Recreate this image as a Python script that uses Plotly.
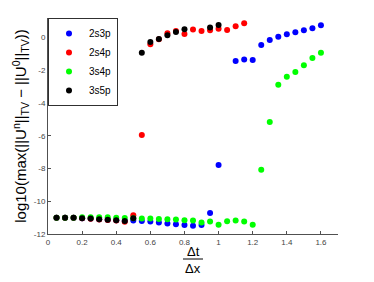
import plotly.graph_objects as go

x_ratio = [0.05, 0.10, 0.15, 0.20, 0.25, 0.30, 0.35, 0.40, 0.45, 0.50,
           0.55, 0.60, 0.65, 0.70, 0.75, 0.80, 0.85, 0.90, 0.95, 1.00,
           1.05, 1.10, 1.15, 1.20, 1.25, 1.30, 1.35, 1.40, 1.45, 1.50,
           1.55, 1.60]

s_2s3p = [-11.0, -11.0, -11.0, -11.03, -11.06, -11.1, -11.13, -11.16, -11.2, -11.18,
          -11.2, -11.24, -11.3, -11.36, -11.4, -11.45, -11.49, -11.45, -10.72, -7.78,
          None, -1.43, -1.33, -1.37, -0.45, -0.14, 0.06, 0.21, 0.33, 0.45,
          0.57, 0.76]

s_2s4p = [-11.0, -11.0, -11.0, -11.04, -11.07, -11.12, -11.15, -11.18, -11.25, -10.85,
          -5.95, -0.41, -0.1, 0.27, 0.41, 0.22, 0.49, 0.41, 0.45, 0.54,
          0.47, 0.70, 0.88]

s_3s4p = [-11.0, -11.0, -11.0, -10.98, -10.98, -10.98, -10.98, -11.0, -11.02, -11.04,
          -11.06, -11.06, -11.08, -11.1, -11.12, -11.16, -11.18, -11.3, -11.23, -11.43,
          -11.22, -11.17, -11.23, -11.43, -8.08, -5.16, -2.88, -2.39, -2.1, -1.69,
          -1.24, -0.92]

s_3s5p = [-11.0, -11.0, -11.0, -11.03, -11.06, -11.1, -11.13, -11.16, -11.2, -11.03,
          -0.92, -0.26, -0.08, 0.14, 0.35, 0.51, None, None, 0.62, 0.77]

series = [("2s3p", s_2s3p, "#0000ff"),
          ("2s4p", s_2s4p, "#ff0000"),
          ("3s4p", s_3s4p, "#00ff00"),
          ("3s5p", s_3s5p, "#000000")]

x_ticks = [0, 0.2, 0.4, 0.6, 0.8, 1, 1.2, 1.4, 1.6]
x_tick_text = ["0", "0.2", "0.4", "0.6", "0.8", "1", "1.2", "1.4", "1.6"]
y_ticks = [-12, -10, -8, -6, -4, -2, 0]
y_tick_text = ["-12", "-10", "-8", "-6", "-4", "-2", "0"]

fig = go.Figure()
for name, vals, col in series:
    fig.add_trace(go.Scatter(
        x=x_ratio[:len(vals)], y=vals, mode="markers", name=name,
        marker=dict(color=col, size=6, line=dict(width=0)),
    ))

# the page body has an 8px margin; size the figure so the plot area lands
# at the same pixels as the reference (plot area x 48..338, y 18..234)
W, H = 366, 274
ML, MR, MT, MB = 40, 36, 10, 48
axis_col = "#505050"
fig.update_layout(
    width=W, height=H,
    margin=dict(l=ML, r=MR, t=MT, b=MB, autoexpand=False),
    paper_bgcolor="white", plot_bgcolor="white",
    font=dict(family="Liberation Sans, Arial, sans-serif", color="#000"),
    showlegend=True,
    legend=dict(x=0, y=1, xanchor="left", yanchor="top",
                bordercolor="#303030", borderwidth=1, bgcolor="white",
                font=dict(size=10), tracegroupgap=0, itemwidth=30),
    xaxis=dict(range=[0, 1.7], tickvals=x_ticks, ticktext=x_tick_text,
               showgrid=False, zeroline=False, showline=True, linecolor=axis_col,
               linewidth=1, ticks="inside", ticklen=3, tickcolor=axis_col,
               tickfont=dict(size=8, color="#444"), automargin=False),
    yaxis=dict(range=[-12, 1.2], tickvals=y_ticks, ticktext=y_tick_text,
               showgrid=False, zeroline=False, showline=True, linecolor=axis_col,
               linewidth=1, ticks="inside", ticklen=3, tickcolor=axis_col,
               tickfont=dict(size=8, color="#444"), automargin=False,
               title=dict(text="log10(max(||U<sup>n</sup>||<sub>TV</sub> − ||U<sup>0</sup>||<sub>TV</sub>))",
                          font=dict(size=15, color="#000"), standoff=3)),
)

plot_top, plot_h = MT, H - MT - MB
plot_left, plot_w = ML, W - ML - MR
def py(p):  # reference pixel -> paper y
    return 1 - ((p - 8) - plot_top) / plot_h
def px(p):  # reference pixel -> paper x
    return ((p - 8) - plot_left) / plot_w

# x-axis label as a fraction Δt / Δx
fig.add_annotation(x=px(193), xref="paper", y=py(251), yref="paper", text="Δt",
                   showarrow=False, yanchor="middle", xanchor="center",
                   font=dict(size=13, color="#000"))
fig.add_annotation(x=px(193), xref="paper", y=py(268), yref="paper", text="Δx",
                   showarrow=False, yanchor="middle", xanchor="center",
                   font=dict(size=13, color="#000"))
fig.add_shape(type="line", xref="paper", yref="paper",
              x0=px(183), x1=px(203), y0=py(259), y1=py(259),
              line=dict(color="#000", width=1))

fig.write_html("out.html")
